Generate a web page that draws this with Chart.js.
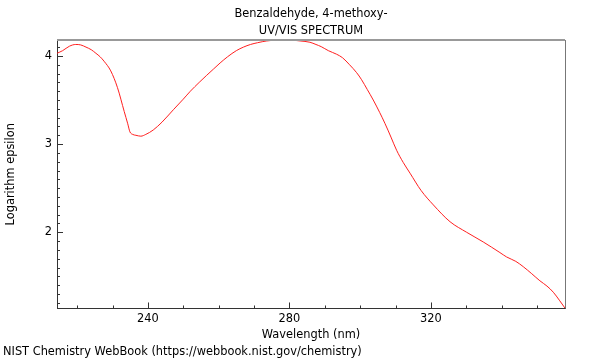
<!DOCTYPE html>
<html>
<head>
<meta charset="utf-8">
<script src="https://cdn.jsdelivr.net/npm/chart.js@4"></script>
<style>
  html, body { margin: 0; padding: 0; background: #fff; }
  #wrap { width: 600px; height: 360px; }
</style>
</head>
<body>
<div id="wrap"><canvas id="spectrum"></canvas></div>
<script>
// ---- data ----
const wavelengths = [
  214.3, 215.9, 217.8, 219.6, 221, 222.5, 224, 225.3, 226.5, 227.6,
  229.5, 231.4, 233.3, 234.3, 234.9, 235.7, 236.6, 238, 239.4, 241.5,
  244, 247.2, 250, 252, 254.5, 256.6, 258.5, 260.4, 262.5, 265,
  267, 269, 271, 273.6, 276, 280, 283, 285.8, 287.5, 289,
  291, 293.3, 295, 297, 299, 300.4, 302, 303.7, 305.5, 307,
  308.7, 310.3, 312.2, 314.1, 317.2, 320.7, 325.4, 330.1, 334.8, 339.5,
  341.4, 344, 346.1, 348.5, 350.8, 352.8, 354.6, 356.3, 357.9
];
const logEpsilon = [
  4.03, 4.06, 4.11, 4.13, 4.125, 4.10, 4.07, 4.03, 3.99, 3.94,
  3.83, 3.64, 3.37, 3.23, 3.14, 3.11, 3.10, 3.09, 3.11, 3.16,
  3.25, 3.39, 3.51, 3.60, 3.70, 3.78, 3.85, 3.92, 3.99, 4.06,
  4.10, 4.13, 4.15, 4.17, 4.178, 4.18, 4.17, 4.155, 4.13, 4.105,
  4.06, 4.02, 3.98, 3.90, 3.81, 3.73, 3.62, 3.50, 3.36, 3.235,
  3.08, 2.93, 2.79, 2.67, 2.475, 2.31, 2.12, 2.00, 1.89, 1.77,
  1.72, 1.67, 1.61, 1.53, 1.45, 1.39, 1.32, 1.23, 1.14
];
const xTicks = [220, 230, 240, 250, 260, 270, 280, 290, 300, 310, 320, 330, 340, 350];
const xLabels = [240, 280, 320];
const yTicks = [1.2, 1.3, 1.4, 1.5, 1.6, 1.7, 1.8, 1.9, 2, 2.1, 2.2, 2.3, 2.4, 2.5, 2.6,
  2.7, 2.8, 2.9, 3, 3.1, 3.2, 3.3, 3.4, 3.5, 3.6, 3.7, 3.8, 3.9, 4, 4.1];
const yLabels = [2, 3, 4];

const titleLines = ['Benzaldehyde, 4-methoxy-', 'UV/VIS SPECTRUM'];
const footerText = 'NIST Chemistry WebBook (https://webbook.nist.gov/chemistry)';

Chart.defaults.font.family = '"DejaVu Sans", sans-serif';
Chart.defaults.font.size = 11.4;
Chart.defaults.color = '#000';

const isLabel = (list, v) => list.some(l => Math.abs(l - v) < 1e-6);

// inward tick marks + grey top/right frame
const frame = {
  id: 'frame',
  afterDatasetsDraw(chart) {
    const { ctx, chartArea: a, scales: { x, y } } = chart;
    ctx.save();
    ctx.lineWidth = 1;
    ctx.strokeStyle = '#333';
    ctx.beginPath();
    x.ticks.forEach(t => {
      const px = Math.round(x.getPixelForValue(t.value)) + 0.5;
      const len = isLabel(xLabels, t.value) ? 6 : 3;
      ctx.moveTo(px, a.bottom);
      ctx.lineTo(px, a.bottom - len);
    });
    y.ticks.forEach(t => {
      const py = Math.round(y.getPixelForValue(t.value)) + 0.5;
      const len = isLabel(yLabels, t.value) ? 6 : 3;
      ctx.moveTo(a.left, py);
      ctx.lineTo(a.left + len, py);
    });
    ctx.stroke();

    ctx.strokeStyle = '#999';
    ctx.lineWidth = 2;
    ctx.beginPath();
    ctx.moveTo(a.left, a.top);
    ctx.lineTo(a.right, a.top);
    ctx.stroke();
    ctx.lineWidth = 1;
    ctx.strokeStyle = '#777';
    ctx.beginPath();
    ctx.moveTo(a.right + 0.5, a.top);
    ctx.lineTo(a.right + 0.5, a.bottom);
    ctx.stroke();
    ctx.restore();
  }
};

new Chart(document.getElementById('spectrum'), {
  type: 'scatter',
  data: {
    datasets: [{
      data: wavelengths.map((w, i) => ({ x: w, y: logEpsilon[i] })),
      showLine: true,
      borderColor: '#ff2020',
      borderWidth: 1,
      pointRadius: 0,
      cubicInterpolationMode: 'monotone'
    }]
  },
  options: {
    responsive: true,
    maintainAspectRatio: false,
    animation: false,
    layout: { padding: { left: 3, right: 35, top: 0, bottom: 0 } },
    plugins: {
      legend: { display: false },
      tooltip: { enabled: false },
      title: {
        display: true,
        text: titleLines,
        fullSize: false,
        font: { size: 11.4, weight: 'normal', lineHeight: 1.45 },
        padding: { top: 6, bottom: 1 }
      },
      subtitle: {
        display: true,
        text: footerText,
        position: 'bottom',
        align: 'start',
        font: { size: 11.4, lineHeight: 1.45 },
        padding: { top: 0, bottom: 0 }
      }
    },
    scales: {
      x: {
        type: 'linear',
        min: 214.3,
        max: 357.9,
        grid: { display: false, drawTicks: false },
        border: { display: true, color: '#333', width: 1 },
        afterBuildTicks: s => { s.ticks = xTicks.map(v => ({ value: v })); },
        afterFit: s => { s.height = 35; },
        ticks: {
          padding: 4,
          maxRotation: 0,
          autoSkip: false,
          callback: v => isLabel(xLabels, v) ? String(v) : ''
        },
        title: {
          display: true,
          text: 'Wavelength (nm)',
          font: { size: 11.4 },
          padding: { top: 0, bottom: 2 }
        }
      },
      y: {
        type: 'linear',
        min: 1.136,
        max: 4.18,
        grid: { display: false, drawTicks: false },
        border: { display: true, color: '#333', width: 1 },
        afterBuildTicks: s => { s.ticks = yTicks.map(v => ({ value: v })); },
        afterFit: s => { s.width = 54; },
        ticks: {
          padding: 5,
          autoSkip: false,
          callback: v => isLabel(yLabels, v) ? String(Math.round(v)) : ''
        },
        title: {
          display: true,
          text: 'Logarithm epsilon',
          font: { size: 11.4 },
          padding: { top: 1, bottom: 0 }
        }
      }
    }
  },
  plugins: [frame]
});
</script>
</body>
</html>
